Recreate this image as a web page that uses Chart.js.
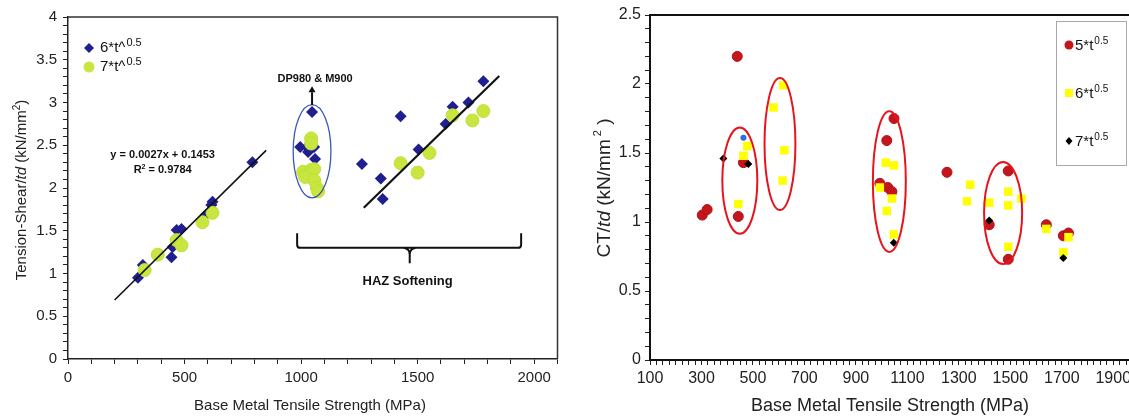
<!DOCTYPE html>
<html>
<head>
<meta charset="utf-8">
<script src="https://cdn.jsdelivr.net/npm/chart.js@4/dist/chart.umd.min.js"></script>
<style>
  html, body { margin: 0; padding: 0; background: #fff; overflow: hidden; width: 1129px; height: 418px; }
  canvas { position: absolute; top: 0; }
  #left { left: 0; }
  #right { left: 565px; }
</style>
</head>
<body>
<canvas id="left" width="565" height="418"></canvas>
<canvas id="right" width="580" height="418"></canvas>
<script>
// left chart: tension-shear / td
const leftBlueX = [300, 321, 444, 449, 466, 487, 590, 615, 620, 791, 996, 1026, 1056, 1030, 1060, 1047, 1261, 1342, 1350, 1427, 1504, 1620, 1650, 1718, 1782];
const leftBlueY = [0.95, 1.10, 1.19, 1.31, 1.51, 1.52, 1.68, 1.80, 1.84, 2.30, 2.48, 2.48, 2.48, 2.42, 2.34, 2.89, 2.28, 2.11, 1.87, 2.84, 2.45, 2.75, 2.95, 3.00, 3.25];
const leftGreenX = [329, 385, 466, 487, 577, 620, 1043, 1043, 1009, 1043, 1056, 1017, 1056, 1068, 1073, 1427, 1500, 1551, 1650, 1735, 1782];
const leftGreenY = [1.04, 1.22, 1.39, 1.33, 1.60, 1.71, 2.58, 2.52, 2.19, 2.21, 2.22, 2.13, 2.09, 2.00, 1.96, 2.29, 2.18, 2.41, 2.85, 2.79, 2.90];
const fitLineX = [200, 850];
const fitLineY = [0.69, 2.44];
const hazLineX = [1269, 1850];
const hazLineY = [1.77, 3.31];

// right chart: CT / td
const redX = [303, 322, 443, 439, 463, 993, 1020, 1024, 1040, 1048, 1254, 1418, 1492, 1492, 1640, 1706, 1726];
const redY = [1.05, 1.09, 1.04, 2.20, 1.43, 1.28, 1.59, 1.25, 1.22, 1.75, 1.36, 0.98, 1.37, 0.73, 0.98, 0.90, 0.92];
const yellowX = [443, 463, 478, 580, 618, 622, 615, 993, 1016, 1048, 1040, 1020, 1047, 1332, 1344, 1418, 1492, 1492, 1492, 1543, 1640, 1706, 1726];
const yellowY = [1.13, 1.48, 1.55, 1.83, 1.99, 1.52, 1.30, 1.25, 1.43, 1.41, 1.17, 1.08, 0.91, 1.15, 1.27, 1.14, 1.22, 1.12, 0.82, 1.17, 0.95, 0.78, 0.89];
const blackX = [385, 482, 1047, 1418, 1706];
const blackY = [1.46, 1.42, 0.85, 1.01, 0.74];
const blueDotX = [463];
const blueDotY = [1.61];

const leftXTicks = [0, 500, 1000, 1500, 2000];
const leftYTicks = [0, 0.5, 1, 1.5, 2, 2.5, 3, 3.5, 4];
const rightXTicks = [100, 300, 500, 700, 900, 1100, 1300, 1500, 1700, 1900];
const rightYTicks = [0, 0.5, 1, 1.5, 2, 2.5];

const FONT = 'Arial, "Liberation Sans", sans-serif';

function pts(xs, ys) {
    return xs.map((x, i) => ({ x: x, y: ys[i] }));
}

function isTick(list, v) {
    return list.some(t => Math.abs(t - v) < 1e-6);
}

// draws text made of several pieces (italic, superscript)
function drawRich(ctx, x, y, segs, rotate) {
    ctx.save();
    ctx.translate(x, y);
    if (rotate) ctx.rotate(-Math.PI / 2);
    let total = 0;
    segs.forEach(s => { ctx.font = s.font; total += ctx.measureText(s.t).width; });
    let cx = -total / 2;
    ctx.textBaseline = 'middle';
    ctx.textAlign = 'left';
    segs.forEach(s => {
        ctx.font = s.font;
        ctx.fillStyle = s.color || '#222';
        ctx.fillText(s.t, cx, s.dy || 0);
        cx += ctx.measureText(s.t).width;
    });
    ctx.restore();
}

function drawLegendText(ctx, x, y, main, sup, size, supSize) {
    ctx.save();
    ctx.textBaseline = 'middle';
    ctx.textAlign = 'left';
    ctx.fillStyle = '#111';
    ctx.font = size + 'px ' + FONT;
    ctx.fillText(main, x, y);
    const w = ctx.measureText(main).width;
    ctx.font = supSize + 'px ' + FONT;
    ctx.fillText(sup, x + w + 1, y - size * 0.33);
    ctx.restore();
}

function ellipse(chart, cx, cy, rx, ry, color, width) {
    const xs = chart.scales.x, ys = chart.scales.y, ctx = chart.ctx;
    const px = xs.getPixelForValue(cx), py = ys.getPixelForValue(cy);
    const rpx = Math.abs(xs.getPixelForValue(cx + rx) - px);
    const rpy = Math.abs(ys.getPixelForValue(cy + ry) - py);
    ctx.save();
    ctx.strokeStyle = color;
    ctx.lineWidth = width;
    ctx.beginPath();
    ctx.ellipse(px, py, rpx, rpy, 0, 0, Math.PI * 2);
    ctx.stroke();
    ctx.restore();
}

const leftDecor = {
    id: 'leftDecor',
    afterDatasetsDraw(chart) {
        const ctx = chart.ctx, a = chart.chartArea;
        const xs = chart.scales.x, ys = chart.scales.y;
        const X = v => xs.getPixelForValue(v), Y = v => ys.getPixelForValue(v);

        ctx.save();
        ctx.strokeStyle = '#333';
        ctx.lineWidth = 1.5;
        ctx.beginPath();
        ctx.moveTo(a.left, a.top);
        ctx.lineTo(a.right, a.top);
        ctx.lineTo(a.right, a.bottom);
        ctx.stroke();
        ctx.restore();

        ellipse(chart, 1047, 2.43, 81, 0.545, '#3a58b5', 1.3);

        // arrow to label
        ctx.save();
        ctx.strokeStyle = '#111';
        ctx.fillStyle = '#111';
        ctx.lineWidth = 2;
        ctx.beginPath();
        ctx.moveTo(X(1047), Y(2.97));
        ctx.lineTo(X(1047), Y(3.12));
        ctx.stroke();
        ctx.beginPath();
        ctx.moveTo(X(1047) - 3.5, Y(3.12));
        ctx.lineTo(X(1047) + 3.5, Y(3.12));
        ctx.lineTo(X(1047), Y(3.19));
        ctx.closePath();
        ctx.fill();
        ctx.restore();

        drawRich(ctx, X(1060), Y(3.27), [{ t: 'DP980 & M900', font: 'bold 11px ' + FONT, color: '#111' }]);
        drawRich(ctx, X(406), Y(2.39), [{ t: 'y = 0.0027x + 0.1453', font: 'bold 11px ' + FONT, color: '#111' }]);
        drawRich(ctx, X(406), Y(2.21), [{ t: 'R', font: 'bold 11px ' + FONT, color: '#111' },
            { t: '2', font: 'bold 7px ' + FONT, color: '#111', dy: -3 },
            { t: ' = 0.9784', font: 'bold 11px ' + FONT, color: '#111' }]);

        // HAZ bracket
        ctx.save();
        ctx.strokeStyle = '#111';
        ctx.lineWidth = 2;
        ctx.beginPath();
        ctx.moveTo(X(983), Y(1.47));
        ctx.lineTo(X(983), Y(1.34));
        ctx.quadraticCurveTo(X(983), Y(1.30), X(995), Y(1.30));
        ctx.lineTo(X(1932), Y(1.30));
        ctx.quadraticCurveTo(X(1944), Y(1.30), X(1944), Y(1.34));
        ctx.lineTo(X(1944), Y(1.47));
        ctx.moveTo(X(1440), Y(1.30));
        ctx.quadraticCurveTo(X(1466), Y(1.29), X(1466), Y(1.22));
        ctx.lineTo(X(1466), Y(1.12));
        ctx.moveTo(X(1492), Y(1.30));
        ctx.quadraticCurveTo(X(1466), Y(1.29), X(1466), Y(1.22));
        ctx.stroke();
        ctx.restore();
        drawRich(ctx, X(1457), Y(0.91), [{ t: 'HAZ Softening', font: 'bold 13px ' + FONT, color: '#111' }]);

        // legend
        ctx.save();
        ctx.fillStyle = '#1f1f8f';
        const lx = a.left + 21, ly1 = a.top + 31, ly2 = a.top + 50;
        ctx.beginPath();
        ctx.moveTo(lx, ly1 - 5); ctx.lineTo(lx + 5, ly1); ctx.lineTo(lx, ly1 + 5); ctx.lineTo(lx - 5, ly1);
        ctx.closePath();
        ctx.fill();
        ctx.fillStyle = '#c9e640';
        ctx.beginPath();
        ctx.arc(lx, ly2, 5.5, 0, Math.PI * 2);
        ctx.fill();
        ctx.restore();
        drawLegendText(ctx, lx + 11, ly1, '6*t^', '0.5', 15, 11);
        drawLegendText(ctx, lx + 11, ly2, '7*t^', '0.5', 15, 11);

        // axis titles
        drawRich(ctx, 22, (a.top + a.bottom) / 2 + 2, [
            { t: 'Tension-Shear/', font: '15px ' + FONT },
            { t: 'td', font: 'italic 15px ' + FONT },
            { t: ' (kN/mm', font: '15px ' + FONT },
            { t: '2', font: '10px ' + FONT, dy: -5 },
            { t: ')', font: '15px ' + FONT }
        ], true);
        drawRich(ctx, 310, 406, [{ t: 'Base Metal Tensile Strength (MPa)', font: '15px ' + FONT }]);
    }
};

const rightDecor = {
    id: 'rightDecor',
    afterDatasetsDraw(chart) {
        const ctx = chart.ctx, a = chart.chartArea;

        ctx.save();
        ctx.strokeStyle = '#111';
        ctx.lineWidth = 2;
        ctx.beginPath();
        ctx.moveTo(a.left, a.top);
        ctx.lineTo(chart.width, a.top);
        ctx.stroke();
        ctx.restore();

        ellipse(chart, 449, 1.30, 68, 0.385, '#e8141c', 2);
        ellipse(chart, 605, 1.565, 60, 0.478, '#e8141c', 2);
        ellipse(chart, 1030, 1.293, 64, 0.51, '#e8141c', 2);
        ellipse(chart, 1472, 1.065, 74, 0.37, '#e8141c', 2);

        // legend box
        const bx = a.left + 406, by = a.top + 6;
        ctx.save();
        ctx.strokeStyle = '#a8a8a8';
        ctx.lineWidth = 1;
        ctx.strokeRect(bx + 0.5, by + 0.5, 70, 144);
        const mx = bx + 13;
        ctx.fillStyle = '#c4161c';
        ctx.beginPath();
        ctx.arc(mx, by + 24, 4.5, 0, Math.PI * 2);
        ctx.fill();
        ctx.fillStyle = '#ffff00';
        ctx.fillRect(mx - 4, by + 68, 8, 8);
        ctx.fillStyle = '#000';
        ctx.beginPath();
        ctx.moveTo(mx, by + 116); ctx.lineTo(mx + 3.5, by + 120); ctx.lineTo(mx, by + 124); ctx.lineTo(mx - 3.5, by + 120);
        ctx.closePath();
        ctx.fill();
        ctx.restore();
        drawLegendText(ctx, mx + 6, by + 25, '5*t', '0.5', 15, 10);
        drawLegendText(ctx, mx + 6, by + 73, '6*t', '0.5', 15, 10);
        drawLegendText(ctx, mx + 6, by + 121, '7*t', '0.5', 15, 10);

        // axis titles
        drawRich(ctx, 40, 188, [
            { t: 'CT/', font: '19px ' + FONT },
            { t: 'td', font: 'italic 19px ' + FONT },
            { t: ' (kN/mm', font: '19px ' + FONT },
            { t: ' 2', font: '11px ' + FONT, dy: -7 },
            { t: ' )', font: '19px ' + FONT }
        ], true);
        drawRich(ctx, 325, 406, [{ t: 'Base Metal Tensile Strength (MPa)', font: '18px ' + FONT }]);
    }
};

new Chart(document.getElementById('left'), {
    type: 'scatter',
    data: {
        datasets: [
            { label: 'fit', type: 'line', data: pts(fitLineX, fitLineY), borderColor: '#111', borderWidth: 1.6, pointRadius: 0, order: 0 },
            { label: 'haz', type: 'line', data: pts(hazLineX, hazLineY), borderColor: '#111', borderWidth: 2.2, pointRadius: 0, order: 0 },
            { label: '7*t^0.5', data: pts(leftGreenX, leftGreenY), pointStyle: 'circle', pointRadius: 6.5, backgroundColor: '#c9e640', borderColor: '#bfe03a', borderWidth: 1, order: 1 },
            { label: '6*t^0.5', data: pts(leftBlueX, leftBlueY), pointStyle: 'rectRot', pointRadius: 6, backgroundColor: '#1f1f8f', borderColor: '#1f1f8f', borderWidth: 0, order: 2 }
        ]
    },
    options: {
        responsive: false,
        animation: false,
        layout: { padding: { left: 0, right: 7, top: 17, bottom: 0 } },
        plugins: { legend: { display: false }, tooltip: { enabled: false } },
        scales: {
            x: {
                type: 'linear', min: 0, max: 2100,
                afterFit: s => { s.height = 59; },
                ticks: { stepSize: 100, autoSkip: false, maxRotation: 0, padding: 5, color: '#222', font: { family: FONT, size: 15 },
                    callback: v => isTick(leftXTicks, v) ? String(v) : '' },
                grid: { drawOnChartArea: false, tickLength: 5, color: '#222' },
                border: { color: '#222', width: 1.5 }
            },
            y: {
                min: 0, max: 4,
                afterFit: s => { s.width = 68; },
                ticks: { stepSize: 0.1, autoSkip: false, padding: 6, color: '#222', font: { family: FONT, size: 15 },
                    callback: v => isTick(leftYTicks, v) ? String(Math.round(v * 10) / 10) : '' },
                grid: { drawOnChartArea: false, tickLength: 5, color: '#222' },
                border: { color: '#222', width: 1.5 }
            }
        }
    },
    plugins: [leftDecor]
});

new Chart(document.getElementById('right'), {
    type: 'scatter',
    data: {
        datasets: [
            { label: '7*t^0.5', data: pts(blackX, blackY), pointStyle: 'rectRot', pointRadius: 4, backgroundColor: '#000', borderWidth: 0, order: 0 },
            { label: 'blue', data: pts(blueDotX, blueDotY), pointStyle: 'circle', pointRadius: 3, backgroundColor: '#2d6fd6', borderWidth: 0, order: 1 },
            { label: '6*t^0.5', data: pts(yellowX, yellowY), pointStyle: 'rect', pointRadius: 6, backgroundColor: '#ffff00', borderWidth: 0, order: 2 },
            { label: '5*t^0.5', data: pts(redX, redY), pointStyle: 'circle', pointRadius: 5, backgroundColor: '#c4161c', borderColor: '#b01018', borderWidth: 1, order: 3 }
        ]
    },
    options: {
        responsive: false,
        animation: false,
        layout: { padding: { left: 0, right: 6, top: 15, bottom: 0 } },
        plugins: { legend: { display: false }, tooltip: { enabled: false } },
        scales: {
            x: {
                type: 'linear', min: 100, max: 2000,
                afterFit: s => { s.height = 58; },
                ticks: { stepSize: 25, autoSkip: false, maxRotation: 0, padding: 4, color: '#222', font: { family: FONT, size: 16 },
                    callback: v => isTick(rightXTicks, v) ? String(v) : '' },
                grid: { drawOnChartArea: false, tickLength: 5, color: '#222' },
                border: { color: '#111', width: 2 }
            },
            y: {
                min: 0, max: 2.5,
                afterFit: s => { s.width = 85; },
                ticks: { stepSize: 0.1, autoSkip: false, padding: 4, color: '#222', font: { family: FONT, size: 16 },
                    callback: v => isTick(rightYTicks, v) ? String(Math.round(v * 10) / 10) : '' },
                grid: { drawOnChartArea: false, tickLength: 5, color: '#222' },
                border: { color: '#111', width: 2 }
            }
        }
    },
    plugins: [rightDecor]
});
</script>
</body>
</html>
